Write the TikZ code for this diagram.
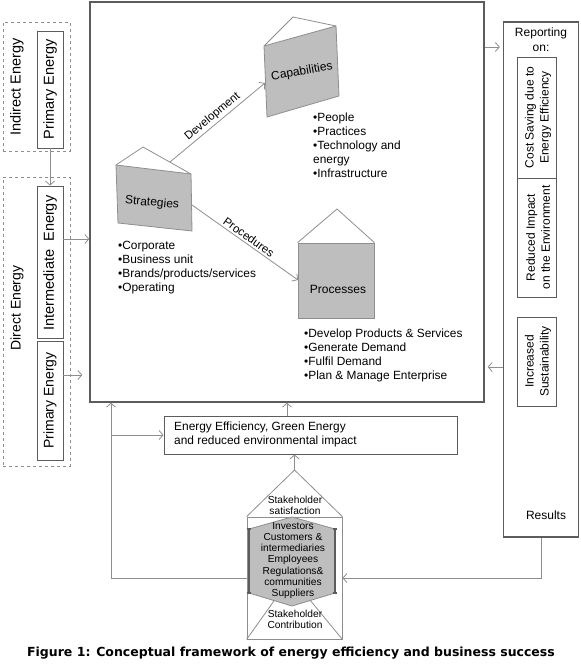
\documentclass[tikz,border=0pt]{standalone}
\usepackage{fontspec}
\setmainfont{Liberation Sans}
\newfontfamily\capfont{DejaVu Sans}
\usetikzlibrary{arrows.meta,calc}
\definecolor{ln}{HTML}{8E8E8E}
\definecolor{dk}{HTML}{5C5C5C}
\definecolor{sh}{HTML}{BEBEBE}
\begin{document}
\begin{tikzpicture}[x=1pt,y=-1pt,
  arr/.style={draw=ln, line width=0.8pt, -{Straight Barb[length=4pt,width=9pt]}},
  conn/.style={draw=ln, line width=0.8pt},
  box/.style={draw=dk, line width=0.8pt, inner sep=0pt},
  bigbox/.style={draw=dk, line width=1.3pt, inner sep=0pt},
  dbox/.style={draw=ln, dashed, line width=0.8pt, inner sep=0pt},
  gshape/.style={draw=ln, fill=sh, line width=0.8pt},
  roof/.style={draw=ln, line width=0.8pt},
  txt/.style={font=\fontsize{11.9}{14}\selectfont, align=left, inner sep=0pt},
  lbl/.style={font=\fontsize{12}{14}\selectfont, inner sep=0pt},
  vtxt/.style={rotate=90, inner sep=0pt, align=center},
  small/.style={font=\fontsize{10.2}{11.2}\selectfont, align=center, inner sep=0pt}]
\useasboundingbox (0,0) rectangle (580,668);

% ---------- main box ----------
\node[bigbox, minimum width=394pt, minimum height=400pt] (main) at (287,202) {};

% ---------- left column ----------
\node[dbox, minimum width=67pt, minimum height=129pt] (indirect) at (36.5,86.5) {};
\node[box, minimum width=26pt, minimum height=117pt] (prim1) at (50,89.5) {};
\node[vtxt, font=\fontsize{14.5}{16}\selectfont] (tind) at (17,87) {Indirect Energy};
\node[vtxt, font=\fontsize{14.5}{16}\selectfont] (tp1) at (50,89.5) {Primary Energy};

\node[dbox, minimum width=67pt, minimum height=289pt] (direct) at (36.5,321.5) {};
\node[box, minimum width=26pt, minimum height=152pt] (inter) at (50,262) {};
\node[box, minimum width=26pt, minimum height=119pt] (prim2) at (50,400.5) {};
\node[vtxt, font=\fontsize{14}{16}\selectfont] (tdir) at (17,308) {Direct Energy};
\node[vtxt, font=\fontsize{14.5}{16}\selectfont] (tint) at (50,263) {Intermediate\ \ Energy};
\node[vtxt, font=\fontsize{14}{16}\selectfont] (tp2) at (50,400.5) {Primary Energy};

\draw[arr] (prim1.south) -- (inter.north);
\coordinate (ya) at (0,239);
\coordinate (yb) at (0,375);
\draw[arr] (inter.east |- ya) -- (main.west |- ya);
\draw[arr, shorten >=7pt] (prim2.east |- yb) -- (main.west |- yb);

% ---------- right column ----------
\node[bigbox, minimum width=75pt, minimum height=515pt] (rep) at (541,279.5) {};
\node[font=\fontsize{12}{15}\selectfont, align=center, inner sep=0pt] (trep) at (541,40) {Reporting\\on:};
\node[box, minimum width=39pt, minimum height=121pt] (cost) at (536.5,117.5) {};
\node[box, minimum width=39pt, minimum height=119pt] (reduced) at (536.5,237.5) {};
\node[box, minimum width=39pt, minimum height=89pt] (incr) at (536.5,361.5) {};
\node[vtxt, font=\fontsize{12}{15}\selectfont] (tcost) at (538,117.5) {Cost Saving due to\\Energy Efficiency};
\node[vtxt, font=\fontsize{12}{15}\selectfont] (tred) at (538,237.5) {Reduced Impact\\on the Environment};
\node[vtxt, font=\fontsize{12}{15}\selectfont] (tinc) at (538,361.5) {Increased\\Sustainability};
\node[font=\fontsize{12}{14}\selectfont, inner sep=0pt] (tres) at (546,515) {Results};

\coordinate (yc) at (0,47);
\coordinate (yd) at (0,367);
\draw[arr, shorten >=3pt] (main.east |- yc) -- (rep.west |- yc);
\draw[arr, shorten >=3pt] (rep.west |- yd) -- (main.east |- yd);

% ---------- Capabilities ----------
\coordinate (c1) at (264,46);
\coordinate (c2) at (336,26);
\coordinate (c3) at (339,96);
\coordinate (c4) at (267,117);
\coordinate (ca) at (293,17);
\draw[roof] (c1) -- (ca) -- (c2);
\path[gshape] (c1) -- (c2) -- (c3) -- (c4) -- cycle;
\node[lbl, rotate=10] (tcap) at (302,72) {Capabilities};
\node[txt, anchor=north west] (lcap) at (313,113) {\textbullet People\\\textbullet Practices\\\textbullet Technology and\\energy\\\textbullet Infrastructure};

% ---------- Strategies ----------
\coordinate (s1) at (116,165);
\coordinate (s2) at (191,174);
\coordinate (s3) at (192,231);
\coordinate (s4) at (118,223);
\coordinate (sa) at (143,147);
\draw[roof] (s1) -- (sa) -- (s2);
\path[gshape] (s1) -- (s2) -- (s3) -- (s4) -- cycle;
\node[lbl, rotate=-5] (tstr) at (152,203) {Strategies};
\node[txt, anchor=north west] (lstr) at (118,241) {\textbullet Corporate\\\textbullet Business unit\\\textbullet Brands/products/services\\\textbullet Operating};

% ---------- Processes ----------
\node[gshape, minimum width=76pt, minimum height=75pt, inner sep=0pt] (proc) at (336,280.5) {};
\coordinate (pa) at (337,209);
\draw[roof] (proc.north west) -- (pa) -- (proc.north east);
\node[lbl] (tproc) at (338,289) {Processes};
\node[txt, anchor=north west] (lproc) at (304,329) {\textbullet Develop Products \& Services\\\textbullet Generate Demand\\\textbullet Fulfil Demand\\\textbullet Plan \& Manage Enterprise};

% ---------- internal arrows ----------
\coordinate (dv1) at (170,162);
\coordinate (dv2) at (265,83);
\draw[arr] (dv1) -- node[sloped, above=1pt, font=\fontsize{11.5}{13}\selectfont, inner sep=1pt] (tdev) {Development} (dv2);
\coordinate (pr1) at (192,205);
\coordinate (pr2) at (298,280);
\draw[arr] (pr1) -- node[sloped, above=1pt, font=\fontsize{11.5}{13}\selectfont, inner sep=1pt] (tpro) {Procedures} (pr2);

% ---------- energy efficiency box ----------
\node[box, draw=dk, minimum width=293pt, minimum height=38pt] (ee) at (310.5,435) {};
\node[txt, anchor=west] (tee) at (174,434) {Energy Efficiency, Green Energy\\and reduced environmental impact};
\coordinate (eeup) at (287,0);
\draw[arr] (ee.north -| eeup) -- (main.south -| eeup);

% ---------- stakeholder shape ----------
\node[draw=ln, line width=0.8pt, minimum width=95pt, minimum height=122pt, inner sep=0pt] (stake) at (294.5,578) {};
\coordinate (sapex) at (294.5,470);
\draw[roof] (stake.north west) -- (sapex) -- (stake.north east);
\coordinate (bapex) at (291,577);
\draw[roof] (stake.south west) -- (bapex) -- (stake.south east);
\path[fill=sh, draw=ln, line width=0.8pt] (292,517) -- (335,529) -- (335,593) -- (292,606) -- (249,593) -- (249,529) -- cycle;
\draw[dk, line width=1.1pt] (249,528) -- (249,594) (335,528) -- (335,594);
\draw[dk, line width=1.1pt] (247,529) -- (251,529) (247,593) -- (251,593) (333,529) -- (337,529) (333,593) -- (337,593);
\node[small] (tsat) at (295,505) {Stakeholder\\satisfaction};
\node[small] (thex) at (293,560.5) {Investors\\Customers \&\\intermediaries\\Employees\\Regulations\&\\communities\\Suppliers};
\node[small] (tcon) at (295,619.5) {Stakeholder\\Contribution};

\draw[arr] (sapex) -- (ee.south -| sapex);

% ---------- feedback loops ----------
\coordinate (fbL) at (111,578);
\coordinate (br) at (111,435);
\draw[arr] (stake.west) -- (fbL) -- (main.south -| fbL);
\draw[arr] (br) -- (ee.west);
\draw[arr] (rep.south) -- (rep.south |- stake.east) -- (stake.east);

% ---------- caption ----------
\node[font=\capfont\bfseries\fontsize{12.5}{14}\selectfont, inner sep=0pt] (cap) at (291,653) {Figure 1: Conceptual framework of energy efficiency and business success};
\end{tikzpicture}
\end{document}
